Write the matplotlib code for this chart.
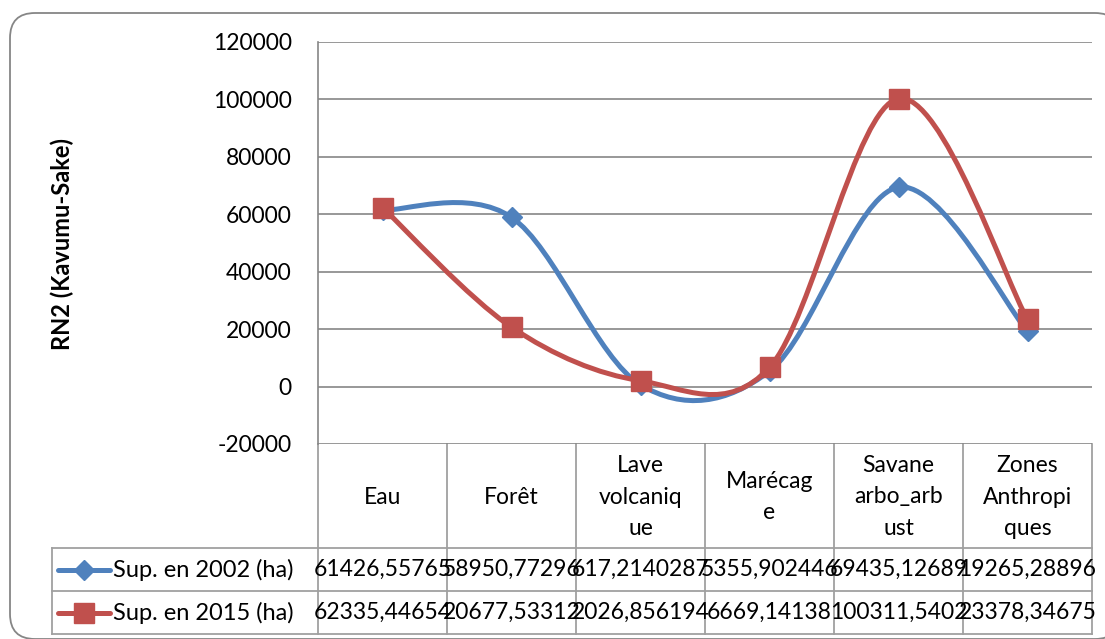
import numpy as np
import matplotlib
matplotlib.use("Agg")
import matplotlib.pyplot as plt
from matplotlib.path import Path
from matplotlib.patches import PathPatch, FancyBboxPatch
from matplotlib.lines import Line2D

categories = ["Eau", "Forêt", "Lave\nvolcaniq\nue", "Marécag\ne",
              "Savane\narbo_arb\nust", "Zones\nAnthropi\nques"]
sup_2002 = [61426.55765, 58950.77296, 617.2140287, 5355.902446, 69435.12689, 19265.28896]
sup_2015 = [62335.44654, 20677.53312, 2026.856194, 6669.14138, 100311.5402, 23378.34675]
series_names = ["Sup. en 2002 (ha)", "Sup. en 2015 (ha)"]
y_ticks = [-20000, 0, 20000, 40000, 60000, 80000, 100000, 120000]

blue = "#4F81BD"
red = "#C0504D"
grey = "#868686"

plt.rcParams['font.family'] = ['Lato', 'DejaVu Sans']
plt.rcParams['axes.unicode_minus'] = False
FS = 16.5


def smooth_path(xs, ys):
    # Excel-like smoothed line: cubic bezier, catmull-rom style control points
    pts = np.column_stack([xs, ys]).astype(float)
    n = len(pts)
    verts = [pts[0]]
    codes = [Path.MOVETO]
    for i in range(n - 1):
        p0 = pts[max(i - 1, 0)]
        p1 = pts[i]
        p2 = pts[i + 1]
        p3 = pts[min(i + 2, n - 1)]
        verts += [p1 + (p2 - p0) / 6, p2 - (p3 - p1) / 6, p2]
        codes += [Path.CURVE4] * 3
    return Path(verts, codes)


fig = plt.figure(figsize=(11.05, 6.39), dpi=100)
W, H = 1105, 639

# background overlay in pixel coordinates for border and data table
bg = fig.add_axes([0, 0, 1, 1], zorder=0)
bg.set_xlim(0, W)
bg.set_ylim(H, 0)
bg.axis("off")

bg.add_patch(FancyBboxPatch((10, 13), 1110, 626, boxstyle="round,pad=0,rounding_size=25",
                            fc="white", ec=grey, lw=1.3, clip_on=True))

ax_left, ax_right, ax_top, ax_bottom = 318, 1092, 42, 444
ax = fig.add_axes([ax_left / W, 1 - ax_bottom / H, (ax_right - ax_left) / W,
                   (ax_bottom - ax_top) / H], zorder=1)
ax.patch.set_alpha(0)

x = np.arange(len(categories))
for vals, col, mk, ms in [(sup_2002, blue, "D", 10.2), (sup_2015, red, "s", 14)]:
    ax.add_patch(PathPatch(smooth_path(x, vals), fc="none", ec=col, lw=3.6,
                           capstyle="round", joinstyle="round", zorder=3))
    ax.plot(x, vals, ls="none", marker=mk, ms=ms, color=col, zorder=4)

ax.set_xlim(-0.5, len(categories) - 0.5)
ax.set_ylim(-20000, 120000)
ax.set_yticks(y_ticks)
ax.set_xticks([])
ax.tick_params(axis="y", length=0, pad=19, labelsize=FS)
ax.grid(axis="y", color=grey, lw=1.2)
ax.set_axisbelow(True)
for s in ["top", "right", "bottom"]:
    ax.spines[s].set_visible(False)
ax.spines["left"].set_color(grey)
ax.spines["left"].set_linewidth(1.2)

bg.text(62, 244, "RN2 (Kavumu-Sake)", rotation=90, ha="center", va="center",
        fontsize=17, fontweight="bold")

# data table
col_w = (ax_right - ax_left) / len(categories)
row_y = [548, 591, 634]
tcol = "#A0A0A0"
for i in range(len(categories) + 1):
    xx = ax_left + i * col_w
    bg.plot([xx, xx], [ax_bottom, row_y[-1]], color=tcol, lw=1.3)
for yy in row_y:
    bg.plot([52, ax_right], [yy, yy], color=tcol, lw=1.3)
bg.plot([52, 52], [row_y[0], row_y[-1]], color=tcol, lw=1.3)

for i, cat in enumerate(categories):
    cx = ax_left + (i + 0.5) * col_w
    bg.text(cx, (ax_bottom + row_y[0]) / 2 + 1, cat, ha="center", va="center",
            fontsize=FS, linespacing=1.6)

rows = [(sup_2002, blue, "D", 10.2), (sup_2015, red, "s", 14)]
for r, (vals, col, mk, ms) in enumerate(rows):
    cy = (row_y[r] + row_y[r + 1]) / 2
    bg.add_line(Line2D([58, 110], [cy, cy], color=col, lw=3.6, solid_capstyle="round"))
    bg.plot([84], [cy], marker=mk, ms=ms, color=col)
    bg.text(113, cy, series_names[r], ha="left", va="center", fontsize=17)
    for i, v in enumerate(vals):
        cx = ax_left + (i + 0.5) * col_w
        bg.text(cx, cy, str(v).replace(".", ","), ha="center", va="center", fontsize=FS)

fig.savefig("out.png", dpi=100)
